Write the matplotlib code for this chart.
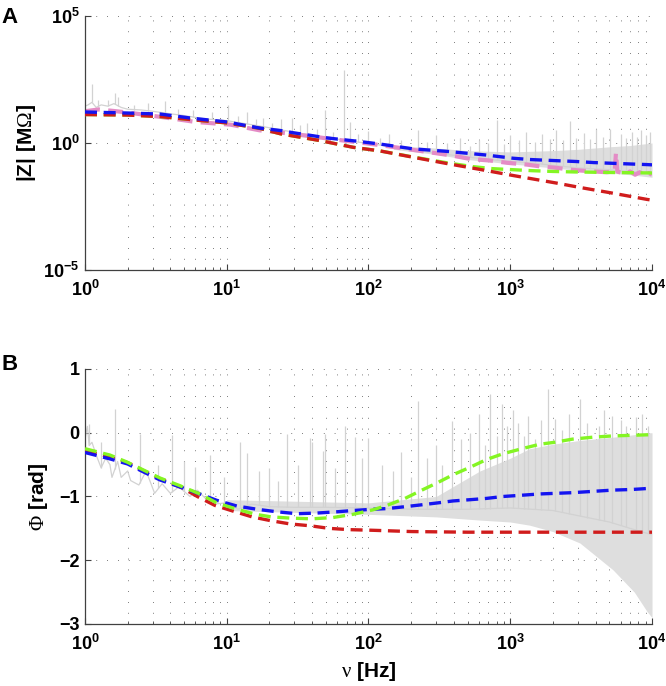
"""Impedance magnitude and phase of the recorded cell against three model fits."""

import matplotlib
import matplotlib.pyplot as plt
import numpy as np

matplotlib.use("agg")

plt.rcParams["font.family"] = ["Liberation Sans", "DejaVu Sans"]
plt.rcParams["mathtext.fontset"] = "custom"
plt.rcParams["mathtext.rm"] = "Liberation Serif"
plt.rcParams["mathtext.it"] = "Liberation Serif:italic"
plt.rcParams["mathtext.bf"] = "Liberation Sans:bold"

# ---- panel A: log10 |Z| in MOhm ----
blue_f_top = [1, 2, 3.4, 5.6, 10, 17, 24, 29, 51, 57, 83, 120, 206, 358, 665,
              1047, 1370, 2000, 2950, 3860, 5300, 9200, 10000]
blue_z_top = [1.22, 1.18, 1.14, 0.98, 0.83, 0.59, 0.49, 0.41, 0.20, 0.17, 0.07,
              -0.04, -0.23, -0.33, -0.47, -0.60, -0.65, -0.69, -0.73, -0.77,
              -0.80, -0.85, -0.86]

red_f_top = [1, 2, 3.4, 5.6, 10, 17, 24, 45, 78, 120, 206, 358, 611, 1047, 2130,
             3100, 5100, 9200, 10000]
red_z_top = [1.12, 1.10, 1.04, 0.92, 0.79, 0.58, 0.36, 0.10, -0.17, -0.31, -0.56,
             -0.81, -1.04, -1.28, -1.58, -1.75, -1.96, -2.22, -2.25]

green_f_top = [1, 2, 3.4, 5.6, 10, 17, 24, 45, 78, 120, 206, 358, 545, 750, 1430,
               2000, 2850, 5000, 10000]
green_z_top = [1.12, 1.10, 1.04, 0.92, 0.79, 0.58, 0.36, 0.10, -0.17, -0.31,
               -0.55, -0.78, -0.93, -1.01, -1.09, -1.12, -1.14, -1.16, -1.18]

pink_f_top = [1, 1.25, 1.6, 2, 3.5, 6, 10.7, 17, 29, 56, 120, 206, 395, 522, 720,
              950, 1310, 1620, 2130, 2770, 3600, 4790, 5450, 5570, 5700, 6500,
              7000, 7600, 8200, 8800, 9500, 10000]
pink_z_top = [1.25, 1.32, 1.26, 1.20, 1.02, 0.83, 0.72, 0.50, 0.36, 0.15, -0.08,
              -0.27, -0.50, -0.63, -0.69, -0.78, -0.85, -0.92, -0.98, -1.06,
              -1.11, -1.15, -1.12, -0.38, -1.13, -1.20, -1.12, -1.25, -1.15,
              -1.28, -1.18, -1.25]

gray_f_top = [1, 1.05, 1.12, 1.2, 1.3, 1.45, 1.6, 1.8, 2, 2.5, 3, 4, 5, 7, 10,
              15, 20, 30, 50, 70, 100, 150, 200, 300, 500, 700, 1000, 1500,
              2000, 3000, 5000, 7000, 10000]
gray_z_top = [1.45, 1.50, 1.60, 1.40, 1.50, 1.45, 1.55, 1.40, 1.33, 1.30, 1.25,
              1.15, 1.08, 0.95, 0.88, 0.72, 0.60, 0.42, 0.22, 0.10, -0.02,
              -0.15, -0.27, -0.40, -0.55, -0.65, -0.72, -0.80, -0.88, -0.98,
              -1.05, -1.12, -1.20]

band_f_top = [150, 300, 500, 1000, 2000, 3000, 5000, 7000, 10000]
band_lo_top = [-0.25, -0.45, -0.65, -0.82, -0.98, -1.08, -1.18, -1.25, -1.35]
band_hi_top = [-0.10, -0.20, -0.30, -0.35, -0.30, -0.25, -0.15, -0.10, 0.00]

spike_f_top = [1.12, 1.23, 1.45, 1.63, 1.71, 2.2, 2.8, 3.67, 4.5, 5.8, 7.9,
               10.2, 12, 14, 16, 18, 21, 24, 29, 33, 37, 43, 49, 56, 67.5, 74,
               85, 100, 120, 140, 170, 223, 260, 300, 360, 440, 520, 600, 700,
               800, 900, 1000, 1150, 1300, 1500, 1680, 1900, 2100, 2350, 2630,
               2900, 3300, 3650, 4000, 4500, 5070, 6000, 6600, 7200, 7800, 8300,
               9000, 9600]
spike_z_top = [2.31, 1.70, 1.70, 1.97, 1.81, 1.50, 1.56, 1.65, 1.35, 1.28, 1.22,
               1.48, 1.05, 1.22, 0.95, 1.00, 0.80, 0.95, 0.97, 0.70, 0.80, 0.55,
               1.28, 0.45, 2.89, 0.82, 0.35, 0.47, 0.20, 0.35, 0.10, 0.53, 0.05,
               0.30, 0.00, 0.18, -0.10, 0.10, 0.00, 0.90, -0.05, 0.30, 0.10,
               0.45, 0.05, 0.36, 0.15, 0.50, 0.10, 0.86, 0.20, 0.40, 0.15, 0.55,
               0.25, 0.56, 0.35, 0.20, 0.43, 0.25, 0.50, 0.30, 0.43]

# ---- panel B: phase in rad ----
blue_f_bot = [1, 1.5, 2, 2.56, 3.38, 4.67, 6.46, 8.5, 11.8, 16.3, 22.6, 31.2,
              43.2, 59.8, 77.6, 107, 135, 181, 238, 309, 394, 522, 680, 887,
              1209, 1620, 2750, 3810, 5260, 7210, 10000]
blue_p_bot = [-0.31, -0.41, -0.49, -0.61, -0.74, -0.85, -0.96, -1.06, -1.15,
              -1.20, -1.24, -1.27, -1.26, -1.24, -1.22, -1.20, -1.19, -1.16,
              -1.13, -1.10, -1.07, -1.05, -1.03, -1.00, -0.98, -0.96, -0.94,
              -0.92, -0.90, -0.89, -0.87]

red_f_bot = [1, 1.5, 2, 2.56, 3.38, 4.9, 6.2, 8.25, 11.1, 15.1, 20.5, 27.9, 39,
             52.7, 72.9, 107, 200, 500, 1000, 10000]
red_p_bot = [-0.28, -0.38, -0.47, -0.59, -0.72, -0.87, -1.00, -1.14, -1.23,
             -1.32, -1.38, -1.43, -1.46, -1.50, -1.52, -1.53, -1.55, -1.56,
             -1.56, -1.56]

green_f_bot = [1, 1.5, 1.98, 2.56, 3.38, 4.67, 6.46, 8.5, 11.8, 16, 20.6, 28.6,
               40, 56, 77.6, 107, 135, 181, 238, 309, 394, 522, 680, 887, 1209,
               1620, 2050, 2750, 3810, 5260, 7210, 10000]
green_p_bot = [-0.25, -0.35, -0.46, -0.58, -0.71, -0.83, -0.96, -1.10, -1.20,
               -1.28, -1.32, -1.34, -1.35, -1.33, -1.28, -1.21, -1.14, -1.03,
               -0.90, -0.78, -0.66, -0.54, -0.42, -0.33, -0.25, -0.18, -0.15,
               -0.10, -0.07, -0.05, -0.04, -0.03]

gray_f_bot = [1, 1.04, 1.07, 1.12, 1.2, 1.3, 1.4, 1.5, 1.55, 1.7, 1.8, 2.0, 2.1,
              2.4, 2.7, 3.1, 3.5, 4, 4.6, 5.5, 6.2, 7, 8, 10, 12, 15, 20, 30,
              50, 100, 200, 300, 500, 1000, 2000, 3000, 5000, 7000, 10000]
gray_p_bot = [-0.10, 0.10, -0.20, -0.15, -0.35, -0.55, -0.40, -0.50, -0.70,
              -0.45, -0.70, -0.60, -0.75, -0.82, -0.60, -0.95, -0.80, -0.95,
              -0.85, -1.00, -0.90, -1.02, -1.12, -1.10, -1.20, -1.12, -1.16,
              -1.17, -1.17, -1.18, -1.20, -1.20, -1.20, -1.18, -1.22, -1.30,
              -1.40, -1.50, -1.60]

band_f_bot = [10, 100, 300, 610, 1000, 1370, 2000, 3100, 5300, 7500, 9200,
              10000]
band_lo_bot = [-1.22, -1.28, -1.32, -1.37, -1.40, -1.45, -1.55, -1.73, -2.15,
               -2.50, -2.80, -2.90]
band_hi_bot = [-1.05, -1.10, -1.00, -0.60, -0.40, -0.25, -0.18, -0.12, -0.07,
               -0.03, 0.00, 0.00]

spike_f_bot = [1.07, 1.3, 1.63, 2.44, 3.3, 4.13, 5, 6, 7.6, 9.5, 12.4, 14, 17,
               20, 23, 26.5, 32, 38.6, 39.7, 47.7, 49, 58, 68, 80, 90, 99, 125,
               150, 170, 200, 225, 260, 300, 330, 390, 450, 520, 600, 660, 720,
               800, 870, 950, 1050, 1130, 1250, 1340, 1500, 1650, 1855, 2080,
               2300, 2600, 3100, 3500, 4200, 4600, 5200, 6000, 6600, 7700, 8500,
               9300]
spike_p_bot = [0.14, -0.15, 0.37, -0.02, -0.50, -0.04, -0.45, -0.54, -0.35,
               -0.70, -0.15, -0.32, -0.60, -0.56, -0.75, -0.02, -0.50, -0.08,
               -0.15, -0.28, -0.02, -0.55, 0.11, -0.07, -0.40, -0.09, -0.50,
               -0.60, -0.30, -0.70, 0.50, -0.40, -0.20, -0.50, 0.19, -0.10,
               0.00, 0.30, -0.20, 0.61, -0.05, 0.45, 0.10, 0.35, 0.15, -0.05,
               0.27, -0.10, 0.20, 0.68, 0.22, 0.05, 0.30, 0.53, 0.15, 0.10, 0.35,
               0.27, 0.20, 0.10, 0.24, 0.30, 0.10]

x_ticks = [1, 10, 100, 1000, 10000]
x_tick_labels = [r"$\mathbf{10^{%d}}$" % i for i in range(5)]
z_ticks = [1e-5, 1, 1e5]
z_tick_labels = [r"$\mathbf{10^{-5}}$", r"$\mathbf{10^{0}}$", r"$\mathbf{10^{5}}$"]
p_ticks = [-3, -2, -1, 0, 1]

BLUE = "#1414f0"
RED = "#d01c1c"
GREEN = "#84f523"
PINK = "#e48cc6"
GRAY = "#d2d2d2"
BAND = "#dedede"
DASH = (0, (3.6, 2.0))
FS_TICK = 13
FS_LABEL = 15


def style_axes(ax):
    ax.set_xscale("log")
    ax.set_xlim(1, 1e4)
    for side in ("top", "right"):
        ax.spines[side].set_visible(False)
    for side in ("left", "bottom"):
        ax.spines[side].set_color("#404040")
        ax.spines[side].set_linewidth(0.9)
    ax.grid(True, which="major", axis="both", color="#505050",
            linestyle=(0, (1, 12)), linewidth=0.6)
    ax.grid(True, which="minor", axis="x", color="#505050",
            linestyle=(0, (1, 12)), linewidth=0.6)
    ax.set_axisbelow(True)
    ax.tick_params(which="both", direction="in", colors="#404040",
                   labelcolor="black", labelsize=FS_TICK)
    ax.tick_params(axis="y", pad=4)
    ax.tick_params(axis="x", pad=7)
    ax.tick_params(which="major", length=4)
    ax.tick_params(which="minor", length=2)
    ax.set_xticks(x_ticks)
    ax.set_xticklabels(x_tick_labels)


def spikes(ax, f_base, v_base, f_sp, v_sp, log_values):
    lf = np.log10(f_base)
    base = np.interp(np.log10(f_sp), lf, v_base)
    if log_values:
        ax.vlines(f_sp, 10.0 ** base, 10.0 ** np.array(v_sp), color=GRAY,
                  linewidth=0.9, zorder=1)
    else:
        ax.vlines(f_sp, base, v_sp, color=GRAY, linewidth=0.9, zorder=1)


fig = plt.figure(figsize=(6.66, 6.86), dpi=100)
ax1 = fig.add_axes([0.1276, 0.6064, 0.8514, 0.3703])
ax2 = fig.add_axes([0.1276, 0.0904, 0.8514, 0.3717])

# panel A
style_axes(ax1)
ax1.set_yscale("log")
ax1.set_ylim(1e-5, 1e5)
ax1.set_yticks(z_ticks)
ax1.set_yticklabels(z_tick_labels)
ax1.yaxis.set_minor_locator(matplotlib.ticker.NullLocator())

ax1.fill_between(band_f_top, 10.0 ** np.array(band_lo_top),
                 10.0 ** np.array(band_hi_top), color=BAND, linewidth=0,
                 zorder=1)
ax1.plot(gray_f_top, 10.0 ** np.array(gray_z_top), color=GRAY, linewidth=0.9,
         zorder=1)
spikes(ax1, gray_f_top, gray_z_top, spike_f_top, spike_z_top, True)
ax1.plot(pink_f_top, 10.0 ** np.array(pink_z_top), color=PINK, linewidth=3,
         linestyle=DASH, zorder=2)
ax1.plot(green_f_top, 10.0 ** np.array(green_z_top), color=GREEN, linewidth=2.4,
         linestyle=DASH, zorder=3)
ax1.plot(red_f_top, 10.0 ** np.array(red_z_top), color=RED, linewidth=2.4,
         linestyle=DASH, zorder=4)
ax1.plot(blue_f_top, 10.0 ** np.array(blue_z_top), color=BLUE, linewidth=2.4,
         linestyle=DASH, zorder=5)
ax1.set_ylabel(r"|Z| [M$\mathrm{\Omega}$]", fontsize=FS_LABEL, fontweight="bold")
ax1.yaxis.set_label_coords(-0.083, 0.5)

# panel B
style_axes(ax2)
ax2.set_ylim(-3, 1)
ax2.set_yticks(p_ticks)
ax2.set_yticklabels([str(t).replace("-", "\u2212") for t in p_ticks],
                    fontweight="bold")

ax2.fill_between(band_f_bot, band_lo_bot, band_hi_bot, color=BAND,
                 linewidth=0, zorder=1)
ax2.plot(gray_f_bot, gray_p_bot, color=GRAY, linewidth=0.9, zorder=1)
spikes(ax2, gray_f_bot, gray_p_bot, spike_f_bot, spike_p_bot, False)
ax2.plot(red_f_bot, red_p_bot, color=RED, linewidth=2.4, linestyle=DASH,
         zorder=3)
ax2.plot(blue_f_bot, blue_p_bot, color=BLUE, linewidth=2.4, linestyle=DASH,
         zorder=4)
ax2.plot(green_f_bot, green_p_bot, color=GREEN, linewidth=2.4, linestyle=DASH,
         zorder=5)
ax2.set_ylabel(r"$\mathrm{\Phi}$ [rad]", fontsize=FS_LABEL, fontweight="bold")
ax2.yaxis.set_label_coords(-0.062, 0.5)
ax2.set_xlabel(r"$\mathrm{\nu}$ [Hz]", fontsize=FS_LABEL, fontweight="bold")
ax2.xaxis.set_label_coords(0.5, -0.141)

fig.text(0.002, 0.9665, "A", fontsize=16, fontweight="bold", va="baseline")
fig.text(0.002, 0.4606, "B", fontsize=16, fontweight="bold", va="baseline")

fig.savefig("out.png", dpi=100)
plt.close(fig)
